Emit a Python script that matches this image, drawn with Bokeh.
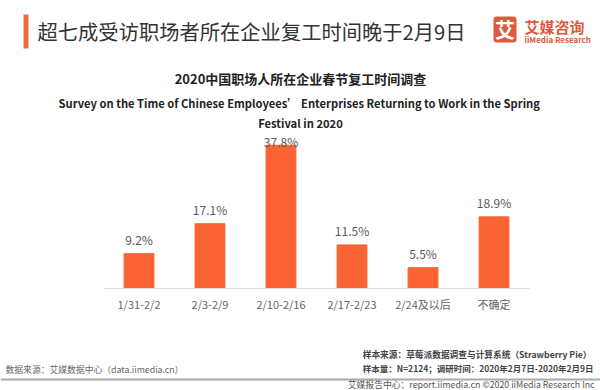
from bokeh.plotting import figure
from bokeh.layouts import column
from bokeh.models import ColumnDataSource, FactorRange, Range1d, Label, LabelSet, BoxAnnotation
from bokeh.core.properties import value
from bokeh.embed import file_html
from bokeh.resources import INLINE
import numpy as np

# ---- data ----
categories = ["1/31-2/2", "2/3-2/9", "2/10-2/16", "2/17-2/23", "2/24及以后", "不确定"]
values = [9.2, 17.1, 37.8, 11.5, 5.5, 18.9]
value_labels = ["9.2%", "17.1%", "37.8%", "11.5%", "5.5%", "18.9%"]

title_text = "超七成受访职场者所在企业复工时间晚于2月9日"
subtitle_cn = "2020中国职场人所在企业春节复工时间调查"
subtitle_en1 = "Survey on the Time of Chinese Employees’  Enterprises Returning to Work in the Spring"
subtitle_en2 = "Festival in 2020"
source_left = "数据来源：艾媒数据中心（data.iimedia.cn）"
sample_src = "样本来源：草莓派数据调查与计算系统（Strawberry  Pie）"
sample_n = "样本量：N=2124；调研时间：2020年2月7日-2020年2月9日"
footer_text = "艾媒报告中心：report.iimedia.cn  ©2020  iiMedia Research Inc"

FONT = "Noto Sans CJK SC"
BAR = "#FA6334"
LOGO = "#DE5A3C"

W = 600
HEAD_H = 130      # header panel height
CHART_H = 208     # chart panel height
FOOT_H = 390 - HEAD_H - CHART_H
BASE_Y = 288      # baseline position on the page
ML, MR = 103, 71
MB = HEAD_H + CHART_H - BASE_Y
frame_h = CHART_H - MB
px_per = 3.79
ymax = frame_h / px_per


def panel(h):
    f = figure(width=W, height=h, x_range=Range1d(0, W), y_range=Range1d(h, 0),
               output_backend="svg", toolbar_location=None, min_border=0, frame_align=False)
    f.axis.visible = False
    f.grid.visible = False
    f.outline_line_color = None
    f.background_fill_color = "white"
    f.border_fill_color = "white"
    return f


def lab(f, off, text, X, Y, size, color="#333333", align="left", style="normal"):
    f.add_layout(Label(x=X, y=Y - off, text=text, text_font=FONT, text_font_size=size,
                       text_color=color, text_align=align, text_baseline="middle",
                       text_font_style=style))


def box(f, off, l, r, t, b, color, radius=0):
    f.add_layout(BoxAnnotation(left=l, right=r, top=t - off, bottom=b - off,
                               fill_color=color, fill_alpha=1, line_color=None, border_radius=radius))


# ---- header ----
head = panel(HEAD_H)
box(head, 0, 23, 28, 14, 48, "#F26B3A")
lab(head, 0, title_text, 37, 30, "20.3px", "#333333")
box(head, 0, 493, 516, 16, 42, LOGO, radius=3)
lab(head, 0, "艾", 504.5, 29, "20px", "white", align="center", style="bold")
lab(head, 0, "艾媒咨询", 524, 26, "15px", LOGO, style="bold")
lab(head, 0, "iiMedia Research", 524, 38.5, "8px", LOGO, style="bold")
lab(head, 0, subtitle_cn, 300, 78, "13px", "#222222", align="center", style="bold")
lab(head, 0, subtitle_en1, 300, 102, "11.2px", "#222222", align="center", style="bold")
lab(head, 0, subtitle_en2, 300, 122, "11.2px", "#222222", align="center", style="bold")

# ---- chart ----
vals = np.array(values)
label_y = np.minimum(vals + 6 / px_per, (BASE_Y - 149) / px_per)
src = ColumnDataSource(dict(cat=categories, val=values, lab=value_labels, ly=label_y))

p = figure(width=W, height=CHART_H, x_range=FactorRange(*categories), y_range=Range1d(0, ymax),
           output_backend="svg", toolbar_location=None, frame_align=False,
           min_border_left=ML, min_border_right=MR, min_border_top=0, min_border_bottom=MB)
p.outline_line_color = None
p.grid.visible = False
p.yaxis.visible = False
p.background_fill_color = "white"
p.border_fill_color = "white"

p.vbar(x="cat", top="val", width=0.42, source=src, color=BAR)
p.add_layout(LabelSet(x="cat", y="ly", text="lab", source=src, text_align="center",
                      text_baseline="bottom", text_font=value(FONT), text_font_size=value("12px"),
                      text_color="#595959"))

ax = p.xaxis[0]
ax.axis_line_color = "#D9D9D9"
ax.axis_line_width = 1
ax.major_tick_line_color = None
ax.minor_tick_line_color = None
ax.major_tick_out = 0
ax.major_tick_in = 0
ax.minor_tick_out = 0
ax.major_label_text_font = FONT
ax.major_label_text_font_size = "11px"
ax.major_label_text_color = "#666666"
ax.major_label_standoff = 7

# ---- footer ----
FOFF = HEAD_H + CHART_H
foot = panel(FOOT_H)
lab(foot, FOFF, sample_src, 593, 354, "8.7px", "#444444", align="right", style="bold")
lab(foot, FOFF, sample_n, 593, 367, "8.5px", "#444444", align="right", style="bold")
lab(foot, FOFF, source_left, 5, 369, "8.8px", "#666666")
box(foot, FOFF, 0, 600, 378, 380, "#AAAAAA")
lab(foot, FOFF, footer_text, 598, 384, "8.8px", "#555555", align="right")

layout = column(head, p, foot, spacing=0)
open("out.html", "w").write(file_html(layout, INLINE))
